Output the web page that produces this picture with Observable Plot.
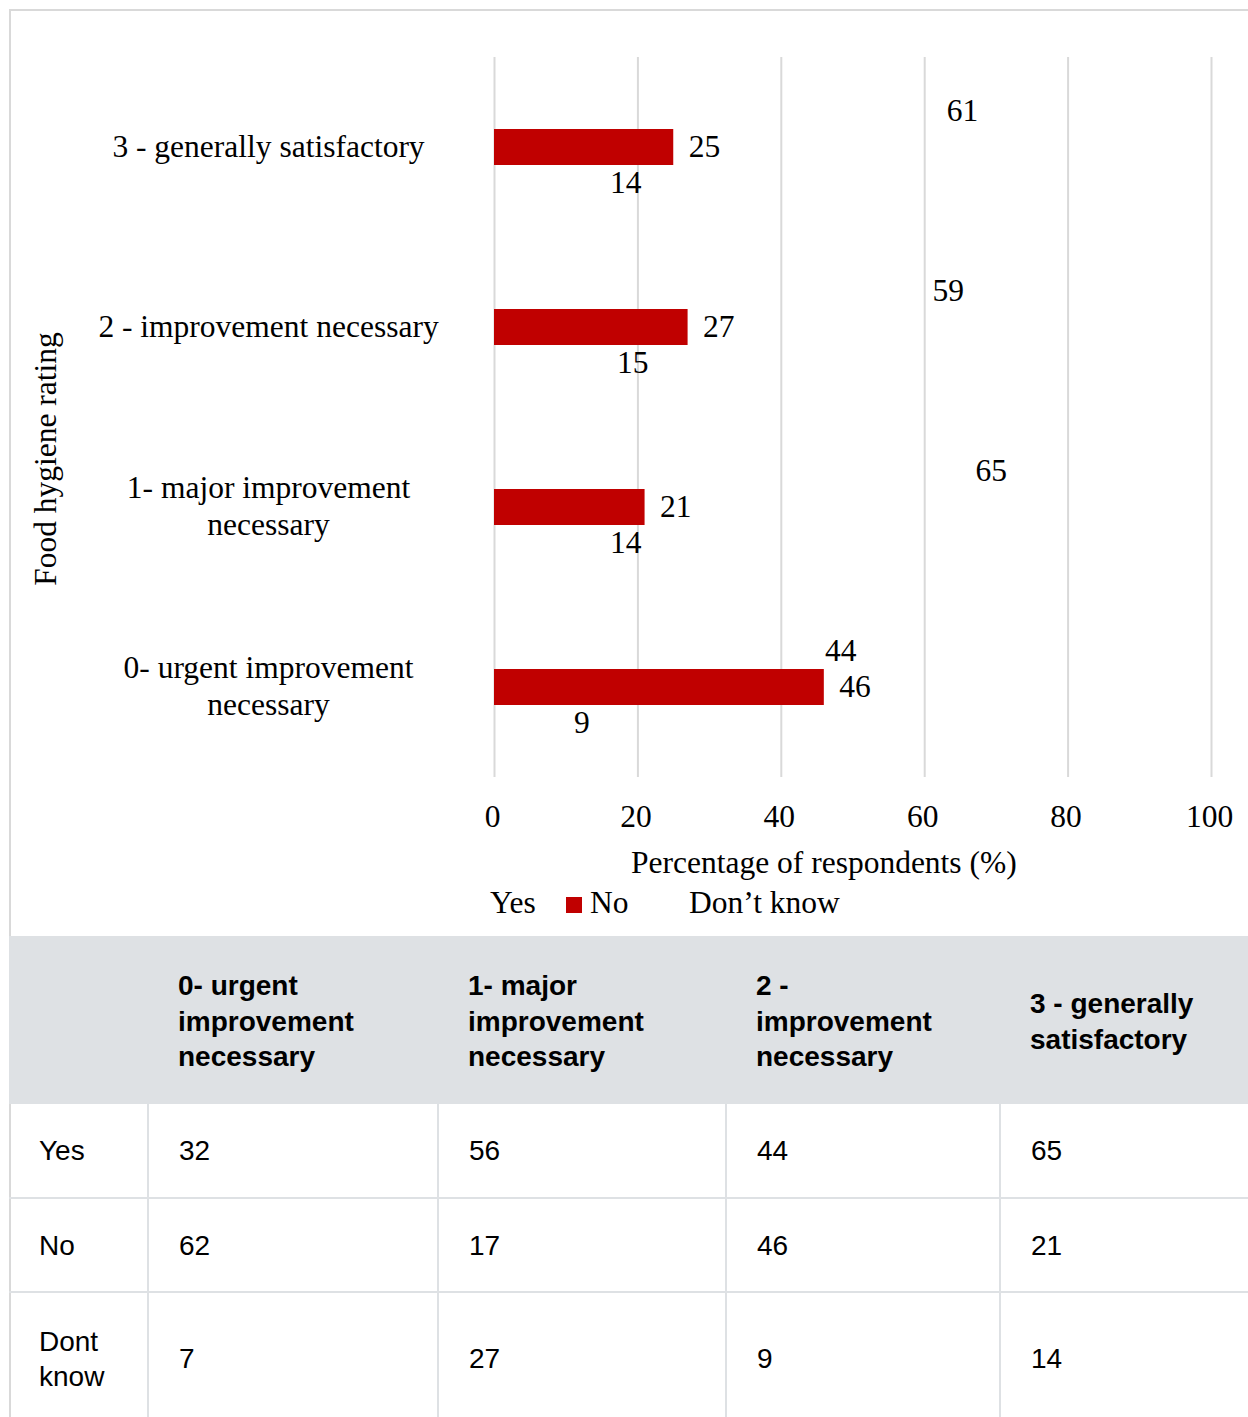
<!DOCTYPE html>
<html><head><meta charset="utf-8">
<script src="https://cdn.jsdelivr.net/npm/d3@7"></script>
<script src="https://cdn.jsdelivr.net/npm/@observablehq/plot@0.6"></script>
<style>
body{margin:0;background:#fff;width:1248px;height:1417px;overflow:hidden;position:relative;font-family:"Liberation Serif","Times New Roman",serif;color:#000;}
#frame{position:absolute;left:9px;top:9px;width:1400px;height:1500px;border-left:2px solid #d9d9d9;border-top:2px solid #d9d9d9;box-sizing:border-box;}
#chart{position:absolute;left:0;top:0;}
#ytitle{position:absolute;left:46px;top:459px;transform:translate(-50%,-50%) rotate(-90deg);font-size:31.5px;white-space:nowrap;}
#xtitle{position:absolute;left:631px;top:845px;font-size:31.5px;white-space:nowrap;}
#legend{position:absolute;left:490px;top:885px;font-size:31.5px;white-space:nowrap;}
#legend span{position:absolute;top:0;}
#legend .sw{display:inline-block;width:16px;height:16px;background:#c00000;top:12px;}
table{position:absolute;left:9px;top:936px;border-collapse:collapse;font-family:"Liberation Sans",Arial,sans-serif;font-size:28px;table-layout:fixed;width:1400px;}
th,td{text-align:left;vertical-align:middle;padding:0 0 0 30px;box-sizing:border-box;}
thead tr{background:#dee1e4;height:168px;}
th{font-weight:bold;line-height:35.5px;padding-top:3px;}
td{border:2px solid #dee1e4;line-height:35px;}
td:first-child{border-left:none;}
tbody tr:first-child td{border-top:none;}
</style></head>
<body>
<div id="frame"></div>
<div id="chart"></div>
<div id="ytitle">Food hygiene rating</div>
<div id="xtitle">Percentage of respondents (%)</div>
<div id="legend"></div>
<table id="tbl"></table>
<script>
const categories = ["0- urgent improvement necessary","1- major improvement necessary","2 - improvement necessary","3 - generally satisfactory"];
const categoryLabels = ["0- urgent improvement\nnecessary","1- major improvement\nnecessary","2 - improvement necessary","3 - generally satisfactory"];
const seriesNames = ["Yes","No","Don’t know"];
const yes = [44, 65, 59, 61];
const no = [46, 21, 27, 25];
const dontKnow = [9, 14, 15, 14];
const xTicks = [0, 20, 40, 60, 80, 100];

const tableHeaders = ["0- urgent<br>improvement<br>necessary","1- major<br>improvement<br>necessary","2 -<br>improvement<br>necessary","3 - generally<br>satisfactory"];
const tableRowLabels = ["Yes","No","Dont<br>know"];
const tableYes = [32, 56, 44, 65];
const tableNo = [62, 17, 46, 21];
const tableDontKnow = [7, 27, 9, 14];

const rows = categories.flatMap((c, i) => [
  {cat: c, series: seriesNames[0], value: yes[i]},
  {cat: c, series: seriesNames[1], value: no[i]},
  {cat: c, series: seriesNames[2], value: dontKnow[i]}
]);
const labelOf = Object.fromEntries(categories.map((c, i) => [c, categoryLabels[i]]));

const chart = Plot.plot({
  width: 1248, height: 935,
  marginLeft: 494, marginRight: 37, marginTop: 56, marginBottom: 157,
  style: {fontFamily: "'Liberation Serif','Times New Roman',serif", fontSize: "31.5px", background: "transparent", color: "#000"},
  x: {domain: [0, 100]},
  y: {domain: seriesNames, paddingInner: 0, paddingOuter: 0.94, axis: null},
  fy: {domain: [...categories].reverse(), padding: 0, axis: null},
  marks: [
    Plot.ruleX(xTicks, {stroke: "#d9d9d9", strokeWidth: 2}),
    Plot.barX(rows.filter(d => d.series === "No"), {x: "value", y: "series", fy: "cat", fill: "#c00000"}),
    Plot.text(rows, {x: "value", y: "series", fy: "cat", text: d => String(d.value), textAnchor: "start", dx: 15, dy: -1, fontSize: 31.5, fill: "#000"}),
    Plot.axisX({ticks: xTicks, tickSize: 0, tickPadding: 27, dx: -2, fontSize: 31.5, label: null}),
    Plot.axisFy({anchor: "left", tickSize: 0, tickPadding: 226, textAnchor: "middle", lineHeight: 1.2, dy: -3, fontSize: 31.5, label: null, tickFormat: d => labelOf[d]})
  ]
});
document.getElementById("chart").append(chart);

// legend
const lg = document.getElementById("legend");
lg.innerHTML = `<span style="left:0">${seriesNames[0]}</span><span class="sw" style="left:76px"></span><span style="left:100px">${seriesNames[1]}</span><span style="left:199px">${seriesNames[2]}</span>`;

// table
const tbl = document.getElementById("tbl");
const colW = [139, 290, 288, 274, 409];
let html = "<colgroup>" + colW.map(w => `<col style="width:${w}px">`).join("") + "</colgroup>";
html += "<thead><tr><th></th>" + tableHeaders.map(h => `<th>${h}</th>`).join("") + "</tr></thead><tbody>";
const bodyRows = [tableYes, tableNo, tableDontKnow];
const rowH = [94, 94, 133];
bodyRows.forEach((r, i) => {
  html += `<tr style="height:${rowH[i]}px"><td>${tableRowLabels[i]}</td>` + r.map(v => `<td>${v}</td>`).join("") + "</tr>";
});
html += "</tbody>";
tbl.innerHTML = html;
</script>
</body></html>
